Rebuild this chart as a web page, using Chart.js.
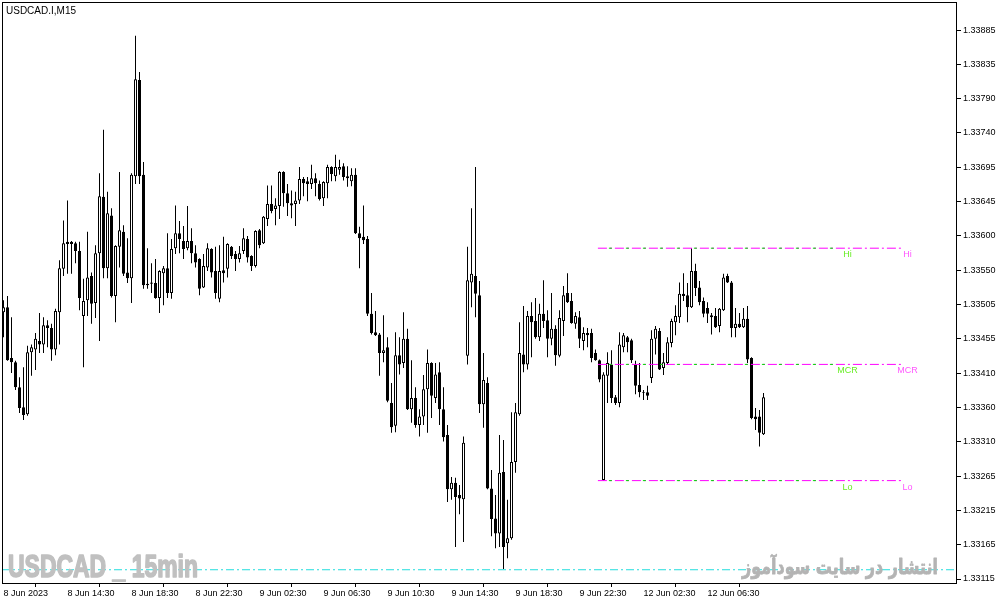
<!DOCTYPE html>
<html>
<head>
<meta charset="utf-8">
<script src="https://cdn.jsdelivr.net/npm/chart.js@4.4.1/dist/chart.umd.min.js"></script>
<style>
  html, body { margin: 0; padding: 0; background: #fff; }
  canvas { display: block; }
</style>
</head>
<body>
<canvas id="chart" width="1003" height="605"></canvas>
<script>
// USDCAD.I M15 candles, 8 Jun 2023 10:30 -> 12 Jun 2023 10:00
const opens = [
  1.33489,1.33496,1.33425,1.33419,1.33384,1.33356,1.33346,1.33433,1.33437,1.33449,
  1.33444,1.33471,1.33467,1.33437,1.33489,1.33550,1.33588,1.33588,1.33586,1.33575,
  1.33484,1.33506,1.33540,1.33502,1.33572,1.33651,1.33551,1.33625,1.33512,1.33581,
  1.33602,1.33545,1.33537,1.33680,1.33815,1.33682,1.33529,1.33531,1.33530,1.33509,
  1.33544,1.33551,1.33516,1.33579,1.33600,1.33589,1.33579,1.33589,1.33572,1.33564,
  1.33524,1.33552,1.33578,1.33547,1.33508,1.33548,1.33550,1.33581,1.33571,1.33564,
  1.33575,1.33592,1.33568,1.33554,1.33604,1.33586,1.33620,1.33641,1.33634,1.33638,
  1.33686,1.33656,1.33642,1.33641,1.33646,1.33676,1.33673,1.33669,1.33677,1.33669,
  1.33649,1.33670,1.33693,1.33680,1.33689,1.33694,1.33680,1.33673,1.33682,1.33600,
  1.33595,1.33592,1.33487,1.33461,1.33458,1.33432,1.33440,1.33362,1.33330,1.33429,
  1.33418,1.33452,1.33353,1.33369,1.33331,1.33343,1.33381,1.33418,1.33369,1.33405,
  1.33353,1.33317,1.33241,1.33250,1.33233,1.33227,1.33428,1.33531,1.33540,1.33513,
  1.33360,1.33390,1.33242,1.33200,1.33179,1.33265,1.33165,1.33172,1.33279,1.33346,
  1.33430,1.33416,1.33484,1.33477,1.33454,1.33487,1.33478,1.33452,1.33466,1.33428,
  1.33477,1.33516,1.33505,1.33473,1.33482,1.33449,1.33460,1.33460,1.33432,1.33422,
  1.33254,1.33400,1.33416,1.33370,1.33362,1.33440,1.33454,1.33450,1.33416,1.33387,
  1.33377,1.33377,1.33397,1.33452,1.33463,1.33411,1.33418,1.33446,1.33475,1.33482,
  1.33515,1.33513,1.33496,1.33547,1.33524,1.33505,1.33495,1.33485,1.33484,1.33470,
  1.33492,1.33540,1.33531,1.33467,1.33473,1.33468,1.33480,1.33425,1.33343,1.33343,
  1.33318
];
const highs = [
  1.33506,1.33512,1.33482,1.33421,1.33398,1.33412,1.33442,1.33444,1.33460,1.33488,
  1.33482,1.33478,1.33473,1.33494,1.33562,1.33618,1.33646,1.33589,1.33588,1.33588,
  1.33536,1.33602,1.33545,1.33583,1.33684,1.33745,1.33658,1.33635,1.33583,1.33686,
  1.33611,1.33593,1.33684,1.33877,1.33826,1.33700,1.33579,1.33558,1.33564,1.33548,
  1.33554,1.33600,1.33592,1.33639,1.33617,1.33610,1.33638,1.33607,1.33583,1.33565,
  1.33571,1.33586,1.33579,1.33581,1.33583,1.33595,1.33586,1.33582,1.33575,1.33582,
  1.33607,1.33596,1.33569,1.33604,1.33606,1.33624,1.33667,1.33667,1.33649,1.33687,
  1.33687,1.33669,1.33660,1.33658,1.33693,1.33679,1.33679,1.33696,1.33684,1.33674,
  1.33673,1.33696,1.33694,1.33710,1.33703,1.33698,1.33694,1.33691,1.33691,1.33609,
  1.33639,1.33596,1.33516,1.33491,1.33460,1.33485,1.33454,1.33390,1.33461,1.33454,
  1.33489,1.33466,1.33422,1.33384,1.33353,1.33401,1.33437,1.33419,1.33418,1.33419,
  1.33384,1.33331,1.33258,1.33257,1.33247,1.33315,1.33581,1.33635,1.33693,1.33533,
  1.33432,1.33398,1.33268,1.33233,1.33317,1.33310,1.33226,1.33349,1.33362,1.33475,
  1.33498,1.33491,1.33503,1.33509,1.33501,1.33534,1.33492,1.33516,1.33471,1.33492,
  1.33526,1.33544,1.33516,1.33489,1.33491,1.33468,1.33467,1.33466,1.33437,1.33423,
  1.33405,1.33433,1.33436,1.33373,1.33461,1.33460,1.33456,1.33452,1.33421,1.33418,
  1.33380,1.33386,1.33464,1.33470,1.33467,1.33432,1.33454,1.33480,1.33499,1.33531,
  1.33544,1.33530,1.33579,1.33557,1.33533,1.33510,1.33503,1.33488,1.33495,1.33495,
  1.33543,1.33543,1.33533,1.33495,1.33488,1.33495,1.33498,1.33426,1.33355,1.33352,
  1.33376
];
const lows = [
  1.33454,1.33421,1.33404,1.33380,1.33348,1.33338,1.33344,1.33400,1.33408,1.33432,
  1.33432,1.33440,1.33421,1.33429,1.33444,1.33540,1.33543,1.33543,1.33558,1.33492,
  1.33412,1.33484,1.33473,1.33481,1.33449,1.33537,1.33537,1.33510,1.33475,1.33552,
  1.33540,1.33530,1.33502,1.33669,1.33669,1.33522,1.33522,1.33516,1.33508,1.33488,
  1.33499,1.33509,1.33508,1.33571,1.33572,1.33564,1.33576,1.33558,1.33552,1.33513,
  1.33523,1.33547,1.33538,1.33508,1.33503,1.33531,1.33538,1.33564,1.33547,1.33559,
  1.33571,1.33559,1.33547,1.33552,1.33579,1.33585,1.33610,1.33628,1.33611,1.33620,
  1.33637,1.33624,1.33621,1.33610,1.33641,1.33652,1.33645,1.33662,1.33652,1.33646,
  1.33638,1.33649,1.33673,1.33673,1.33682,1.33674,1.33665,1.33666,1.33599,1.33551,
  1.33585,1.33484,1.33458,1.33456,1.33400,1.33419,1.33363,1.33320,1.33321,1.33402,
  1.33411,1.33352,1.33334,1.33327,1.33315,1.33331,1.33320,1.33341,1.33362,1.33331,
  1.33308,1.33223,1.33226,1.33160,1.33206,1.33167,1.33416,1.33496,1.33482,1.33348,
  1.33327,1.33241,1.33175,1.33158,1.33160,1.33129,1.33144,1.33170,1.33264,1.33344,
  1.33405,1.33409,1.33426,1.33452,1.33449,1.33467,1.33426,1.33443,1.33414,1.33426,
  1.33456,1.33502,1.33473,1.33466,1.33439,1.33436,1.33440,1.33419,1.33421,1.33391,
  1.33253,1.33362,1.33362,1.33359,1.33356,1.33433,1.33433,1.33418,1.33374,1.33370,
  1.33366,1.33366,1.33390,1.33430,1.33408,1.33401,1.33416,1.33440,1.33457,1.33474,
  1.33505,1.33475,1.33495,1.33512,1.33499,1.33482,1.33474,1.33458,1.33467,1.33461,
  1.33491,1.33530,1.33454,1.33454,1.33467,1.33467,1.33418,1.33339,1.33324,1.33301,
  1.33317
];
const closes = [
  1.33496,1.33422,1.33419,1.33384,1.33355,1.33345,1.33433,1.33440,1.33452,1.33444,
  1.33471,1.33467,1.33437,1.33491,1.33551,1.33586,1.33585,1.33585,1.33575,1.33509,
  1.33505,1.33538,1.33501,1.33572,1.33652,1.33551,1.33628,1.33512,1.33582,1.33604,
  1.33543,1.33537,1.33682,1.33816,1.33680,1.33527,1.33527,1.33529,1.33509,1.33547,
  1.33551,1.33516,1.33578,1.33600,1.33592,1.33578,1.33589,1.33572,1.33559,1.33522,
  1.33554,1.33579,1.33545,1.33516,1.33547,1.33544,1.33585,1.33568,1.33564,1.33572,
  1.33593,1.33566,1.33554,1.33603,1.33583,1.33623,1.33641,1.33631,1.33639,1.33686,
  1.33656,1.33642,1.33639,1.33646,1.33676,1.33670,1.33669,1.33677,1.33670,1.33648,
  1.33672,1.33693,1.33683,1.33693,1.33693,1.33679,1.33677,1.33682,1.33600,1.33593,
  1.33590,1.33487,1.33460,1.33457,1.33432,1.33436,1.33365,1.33328,1.33429,1.33416,
  1.33452,1.33353,1.33369,1.33331,1.33343,1.33381,1.33418,1.33372,1.33402,1.33353,
  1.33314,1.33241,1.33250,1.33230,1.33228,1.33306,1.33534,1.33543,1.33515,1.33360,
  1.33394,1.33242,1.33199,1.33179,1.33264,1.33160,1.33172,1.33279,1.33349,1.33432,
  1.33416,1.33484,1.33475,1.33454,1.33487,1.33477,1.33452,1.33466,1.33429,1.33481,
  1.33513,1.33503,1.33474,1.33484,1.33452,1.33460,1.33457,1.33425,1.33422,1.33395,
  1.33402,1.33418,1.33369,1.33362,1.33444,1.33457,1.33447,1.33422,1.33386,1.33377,
  1.33376,1.33372,1.33452,1.33466,1.33409,1.33419,1.33447,1.33477,1.33484,1.33515,
  1.33512,1.33496,1.33547,1.33523,1.33503,1.33487,1.33487,1.33482,1.33468,1.33494,
  1.33538,1.33531,1.33467,1.33473,1.33468,1.33480,1.33423,1.33341,1.33339,1.33320,
  1.33370
];

// time axis: one label every 16 bars (4 hours)
const xTickIdx = [0, 16, 32, 48, 64, 80, 96, 112, 128, 144, 160, 176];
const xTickLabels = [
  "8 Jun 2023", "8 Jun 14:30", "8 Jun 18:30", "8 Jun 22:30", "9 Jun 02:30", "9 Jun 06:30",
  "9 Jun 10:30", "9 Jun 14:30", "9 Jun 18:30", "9 Jun 22:30", "12 Jun 02:30", "12 Jun 06:30"
];

// price axis labels, bottom to top (MT4 rounds them)
const yTickLabels = [
  "1.33115", "1.33165", "1.33215", "1.33265", "1.33310", "1.33360", "1.33410", "1.33455",
  "1.33505", "1.33550", "1.33600", "1.33645", "1.33695", "1.33740", "1.33790", "1.33835", "1.33885"
];
const yTickFirst = 1.33115;
const yTickLast = 1.33885;

// session levels drawn by the indicator
const levelNames = ["Hi", "MCR", "Lo"];
const levelValues = [1.33579, 1.33416, 1.33253];
const levelStart = 148.6;
const levelEndGreen = 210;
const levelEndMagenta = 225;
const lowestLine = 1.33128;

const X_MIN = -0.375;
const X_MAX = 238.375;

const wicks = lows.map((l, i) => ({ x: i, y: [l, highs[i]] }));
const bodies = opens.map((o, i) => ({ x: i, y: [o, closes[i]] }));
const bodyColors = opens.map((o, i) => (closes[i] >= o ? "#ffffff" : "#000000"));

const levelSets = [];
levelValues.forEach((v) => {
  levelSets.push({
    type: "line",
    data: [{ x: levelStart, y: v }, { x: levelEndGreen, y: v }],
    borderColor: "#00dd00",
    borderWidth: 1,
    borderDash: [3, 14],
    borderDashOffset: -11,
    pointRadius: 0,
    order: 0,
  });
  levelSets.push({
    type: "line",
    data: [{ x: levelStart, y: v }, { x: levelEndMagenta, y: v }],
    borderColor: "#ff00ff",
    borderWidth: 1,
    borderDash: [9, 3, 2, 3],
    pointRadius: 0,
    order: 1,
  });
});

function fitText(ctx, text, font, x, baseline, width, color, stroke) {
  ctx.save();
  ctx.font = font;
  const w = ctx.measureText(text).width;
  ctx.translate(x, baseline);
  ctx.scale(width / w, 1);
  ctx.fillStyle = color;
  ctx.strokeStyle = color;
  ctx.lineWidth = stroke;
  ctx.lineJoin = "round";
  ctx.textAlign = "left";
  ctx.textBaseline = "alphabetic";
  ctx.fillText(text, 0, 0);
  if (stroke) ctx.strokeText(text, 0, 0);
  ctx.restore();
}

const overlay = {
  id: "overlay",
  afterDatasetsDraw(chart) {
    const { ctx, chartArea: a, scales } = chart;
    ctx.save();

    // frame
    ctx.strokeStyle = "#000";
    ctx.lineWidth = 1;
    ctx.strokeRect(a.left + 0.5, a.top + 0.5, a.right - a.left - 1, a.bottom - a.top);

    // level labels
    ctx.font = "9px 'Liberation Sans'";
    ctx.textAlign = "center";
    ctx.textBaseline = "top";
    levelValues.forEach((v, i) => {
      const py = scales.y.getPixelForValue(v) + 2;
      ctx.fillStyle = "#66ee22";
      ctx.fillText(levelNames[i], scales.x.getPixelForValue(levelEndGreen + 1), py);
      ctx.fillStyle = "#ff55ff";
      ctx.fillText(levelNames[i], scales.x.getPixelForValue(levelEndMagenta + 1), py);
    });

    // symbol caption
    ctx.fillStyle = "#000";
    ctx.textAlign = "left";
    ctx.font = "10px 'Liberation Sans'";
    ctx.fillText("USDCAD.I,M15", 6, 6);

    // watermarks
    fitText(ctx, "USDCAD _ 15min", "bold 31px 'Liberation Sans'", 8, 577, 190, "#c0c0c0", 1.6);
    fitText(ctx, "انتشار در سایت سودآموز", "bold 21px 'DejaVu Sans'", 742, 574, 196, "#b4b4b4", 0.8);

    ctx.restore();
  },
};

Chart.defaults.font.family = "'Liberation Sans'";
Chart.defaults.font.size = 9;
Chart.defaults.color = "#000";

const ctx = document.getElementById("chart").getContext("2d");
new Chart(ctx, {
  type: "bar",
  data: {
    datasets: [
      {
        type: "line",
        data: [{ x: X_MIN, y: lowestLine }, { x: X_MAX, y: lowestLine }],
        borderColor: "#22dddd",
        borderWidth: 1,
        borderDash: [8, 3, 2, 3],
        pointRadius: 0,
        order: 1,
      },
      ...levelSets,
      {
        data: bodies,
        backgroundColor: bodyColors,
        borderColor: "#000",
        borderWidth: 1,
        borderSkipped: false,
        barThickness: 3,
        maxBarThickness: 3,
        grouped: false,
        inflateAmount: 0,
        order: 2,
      },
      {
        data: wicks,
        backgroundColor: "#000",
        borderWidth: 0,
        barThickness: 1,
        maxBarThickness: 1,
        grouped: false,
        inflateAmount: 0,
        order: 3,
      },
    ],
  },
  options: {
    responsive: false,
    animation: false,
    events: [],
    layout: { padding: { left: 2, top: 2, right: 0, bottom: 0 } },
    plugins: { legend: { display: false }, tooltip: { enabled: false } },
    scales: {
      x: {
        type: "linear",
        min: X_MIN,
        max: X_MAX,
        offset: false,
        afterBuildTicks: (s) => { s.ticks = xTickIdx.map((v) => ({ value: v })); },
        afterFit: (s) => {
          s.height = 22;
          s.paddingLeft = 0;
          s.paddingRight = 0;
        },
        border: { display: false },
        grid: { drawOnChartArea: false, tickLength: 4, color: "#000" },
        ticks: {
          autoSkip: false,
          maxRotation: 0,
          align: "start",
          padding: 1,
          callback: (v, i) => xTickLabels[i],
        },
      },
      y: {
        position: "right",
        min: 1.331094,
        max: 1.339243,
        afterBuildTicks: (s) => {
          const step = (yTickLast - yTickFirst) / (yTickLabels.length - 1);
          s.ticks = yTickLabels.map((t, i) => ({ value: yTickFirst + i * step }));
        },
        afterFit: (s) => {
          s.width = 46;
          s.paddingTop = 0;
          s.paddingBottom = 0;
        },
        border: { display: false },
        grid: { drawOnChartArea: false, tickLength: 4, color: "#000" },
        ticks: {
          autoSkip: false,
          padding: 2,
          callback: (v, i) => yTickLabels[i],
        },
      },
    },
  },
  plugins: [overlay],
});
</script>
</body>
</html>
